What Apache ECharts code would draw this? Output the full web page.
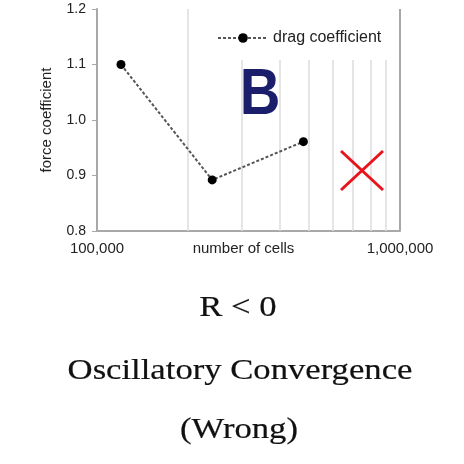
<!DOCTYPE html>
<html>
<head>
<meta charset="utf-8">
<script src="https://cdn.jsdelivr.net/npm/echarts@6/dist/echarts.min.js"></script>
<style>html,body{margin:0;padding:0;background:#fff;}#c{width:464px;height:464px;}</style>
</head>
<body>
<div id="c"></div>
<script>
var seriesName = 'drag coefficient';
var cells = [120000, 240000, 480000];
var dragCoeff = [1.10, 0.892, 0.961];
var minorGridCells = [200000, 300000, 400000, 500000, 600000, 700000, 800000, 900000];
var yTicks = [0.8, 0.9, 1.0, 1.1, 1.2];
var xLabelText = 'number of cells';
var yLabelText = 'force coefficient';
var captionLines = ['R < 0', 'Oscillatory Convergence', '(Wrong)'];

var chart = echarts.init(document.getElementById('c'), null, {renderer: 'canvas'});
var sans = 'Liberation Sans, Arial, sans-serif';
var serif = 'Liberation Serif, Times New Roman, serif';

var option = {
  animation: false,
  backgroundColor: '#fff',
  grid: {left: 97, right: 64, top: 9, bottom: 233, containLabel: false},
  legend: {
    data: [seriesName],
    left: 200, top: 9,
    padding: [21, 10, 14, 17],
    backgroundColor: '#fff',
    itemWidth: 50, itemHeight: 12,
    textStyle: {fontFamily: sans, fontSize: 16, color: '#222'},
    z: 10
  },
  xAxis: {
    type: 'log', logBase: 10, min: 100000, max: 1000000,
    name: xLabelText, nameLocation: 'middle', nameGap: 10, nameMoveOverlap: false,
    nameTextStyle: {fontFamily: sans, fontSize: 15, color: '#222', padding: [0, 10, 0, 0], verticalAlign: 'top'},
    axisLine: {lineStyle: {color: '#a8a8a8', width: 2}},
    axisTick: {show: false},
    splitLine: {show: true, lineStyle: {color: '#a8a8a8', width: 2}},
    axisLabel: {
      fontFamily: sans, fontSize: 15, color: '#222', margin: 10,
      formatter: function (v) { return Math.round(v).toLocaleString('en-US'); }
    }
  },
  yAxis: {
    type: 'value', min: yTicks[0], max: yTicks[yTicks.length - 1], interval: 0.1,
    name: yLabelText, nameLocation: 'middle', nameGap: 43, nameRotate: 90,
    nameTextStyle: {fontFamily: sans, fontSize: 15, color: '#222'},
    axisLine: {show: true, lineStyle: {color: '#a8a8a8', width: 2}},
    axisTick: {show: true, inside: false, length: 5, lineStyle: {color: '#a8a8a8'}},
    splitLine: {show: false},
    axisLabel: {
      fontFamily: sans, fontSize: 14, color: '#222', margin: 11,
      formatter: function (v) { return v.toFixed(1); }
    }
  },
  series: [{
    name: seriesName,
    type: 'line',
    data: cells.map(function (c, i) { return [c, dragCoeff[i]]; }),
    symbol: 'circle', symbolSize: 9,
    itemStyle: {color: '#000'},
    lineStyle: {color: '#555', width: 2, type: [3, 2]},
    z: 5,
    markLine: {
      silent: true, symbol: 'none', label: {show: false},
      lineStyle: {color: '#dcdcdc', width: 1.5, type: 'solid'},
      data: minorGridCells.map(function (v) { return {xAxis: v}; }),
      z: 1
    }
  }],
  graphic: [
    {type: 'text', x: 260, y: 96, scaleX: 0.88, z: 20,
     style: {text: 'B', fontFamily: sans, fontWeight: 'bold', fontSize: 64, fill: '#1b1f6b', align: 'center', verticalAlign: 'middle'}},
    {type: 'line', z: 20, shape: {x1: 341, y1: 151, x2: 383, y2: 190}, style: {stroke: '#e8141c', lineWidth: 3}},
    {type: 'line', z: 20, shape: {x1: 383, y1: 151, x2: 341, y2: 190}, style: {stroke: '#e8141c', lineWidth: 3}},
    {type: 'text', x: 238, y: 308, scaleX: 1.155,
     style: {text: captionLines[0], fontFamily: serif, fontSize: 30, fill: '#111', stroke: '#111', lineWidth: 0.2, align: 'center', verticalAlign: 'middle'}},
    {type: 'text', x: 240, y: 371, scaleX: 1.155,
     style: {text: captionLines[1], fontFamily: serif, fontSize: 30, fill: '#111', stroke: '#111', lineWidth: 0.2, align: 'center', verticalAlign: 'middle'}},
    {type: 'text', x: 239, y: 430, scaleX: 1.155,
     style: {text: captionLines[2], fontFamily: serif, fontSize: 30, fill: '#111', stroke: '#111', lineWidth: 0.2, align: 'center', verticalAlign: 'middle'}}
  ]
};
chart.setOption(option);
</script>
</body>
</html>
